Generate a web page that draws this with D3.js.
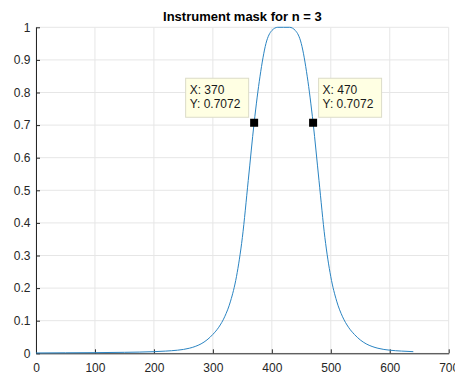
<!DOCTYPE html>
<html>
<head>
<meta charset="utf-8">
<script src="https://cdn.jsdelivr.net/npm/d3@7"></script>
<style>
  html, body { margin: 0; padding: 0; background: #fff; }
  svg { display: block; font-family: "Liberation Sans", Arial, Helvetica, sans-serif; }
  .axis path, .axis line { stroke: #262626; }
  .axis text { fill: #262626; font-size: 12px; }
</style>
</head>
<body>
<svg id="chart" width="455" height="376"></svg>
<script>
// values
const wavelength = [0, 50, 100, 150, 200, 220, 240, 250, 260, 270, 280, 290, 300, 310, 320, 330, 340, 350, 360, 370, 380, 390, 400, 410, 420, 430, 440, 450, 460, 470, 480, 490, 500, 510, 520, 530, 540, 550, 560, 570, 580, 590, 600, 620, 640]
const mask = [0.001, 0.0015, 0.002, 0.003, 0.005, 0.0068, 0.0095, 0.0118, 0.0155, 0.021, 0.029, 0.041, 0.058, 0.080, 0.112, 0.160, 0.235, 0.355, 0.53, 0.7072, 0.85, 0.95, 0.99, 1.0, 1.0, 1.0, 0.99, 0.95, 0.85, 0.7072, 0.53, 0.355, 0.235, 0.160, 0.112, 0.080, 0.058, 0.041, 0.029, 0.021, 0.0155, 0.0118, 0.0095, 0.0068, 0.005]
const tipX = [370, 470]
const tipY = [0.7072, 0.7072]
const tipSide = ['left', 'right']
const xTicks = [0, 100, 200, 300, 400, 500, 600, 700]
const yTicks = [0, 0.1, 0.2, 0.3, 0.4, 0.5, 0.6, 0.7, 0.8, 0.9, 1]
const title = 'Instrument mask for n = 3'

const margin = {top: 27.3, left: 36, right: 6.3, bottom: 22.7}
const width = 455 - margin.left - margin.right
const height = 376 - margin.top - margin.bottom

const svg = d3.select('#chart')

const x = d3.scaleLinear().domain([0, 700]).range([0, width])
const y = d3.scaleLinear().domain([0, 1]).range([height, 0])

const g = svg.append('g')
    .attr('transform', 'translate(' + margin.left + ',' + margin.top + ')')

// grid
g.append('g').selectAll('line.vx')
    .data(xTicks)
    .enter().append('line')
    .attr('x1', d => x(d)).attr('x2', d => x(d))
    .attr('y1', 0).attr('y2', height)
    .attr('stroke', '#e6e6e6')
g.append('g').selectAll('line.hy')
    .data(yTicks)
    .enter().append('line')
    .attr('x1', 0).attr('x2', width)
    .attr('y1', d => y(d)).attr('y2', d => y(d))
    .attr('stroke', '#e6e6e6')

// axes, ticks pointing inward
g.append('g')
    .attr('class', 'axis axis--x')
    .attr('transform', 'translate(0,' + height + ')')
    .call(d3.axisBottom(x).tickValues(xTicks).tickSizeInner(-4).tickSizeOuter(0).tickPadding(10.5).tickFormat(d3.format('d')))
g.append('g')
    .attr('class', 'axis axis--y')
    .call(d3.axisLeft(y).tickValues(yTicks).tickSizeInner(-4).tickSizeOuter(0).tickPadding(5.5).tickFormat(d => d3.format('~g')(d)))
g.selectAll('.axis text').attr('font-family', null).attr('font-size', null)

// curve
const points = wavelength.map((w, i) => [w, mask[i]])
const line = d3.line()
    .x(d => x(d[0]))
    .y(d => y(d[1]))
    .curve(d3.curveMonotoneX)
g.append('path')
    .datum(points)
    .attr('fill', 'none')
    .attr('stroke', '#2a84c2')
    .attr('stroke-width', 1)
    .attr('d', line)

// data tips
const boxW = 63, boxH = 39
tipX.forEach((tx, i) => {
    const px = x(tx), py = y(tipY[i])
    const bx = tipSide[i] === 'left' ? px - 6 - boxW : px + 5
    const by = py - 6 - boxH
    const tip = g.append('g').attr('transform', 'translate(' + bx + ',' + by + ')')
    tip.append('rect')
        .attr('x', 0.5).attr('y', 0.5)
        .attr('width', boxW).attr('height', boxH)
        .attr('fill', '#ffffe3')
        .attr('stroke', '#dcdcc8')
    tip.append('text')
        .attr('x', 4.5).attr('y', 16.5)
        .attr('font-size', 12).attr('fill', '#1a1a1a')
        .text('X: ' + tx)
    tip.append('text')
        .attr('x', 4.5).attr('y', 30)
        .attr('font-size', 12).attr('fill', '#1a1a1a')
        .text('Y: ' + tipY[i])
    g.append('rect')
        .attr('x', px - 4).attr('y', py - 4)
        .attr('width', 8).attr('height', 8)
        .attr('fill', '#000')
})

// title
svg.append('text')
    .attr('x', margin.left + width / 2)
    .attr('y', 20.5)
    .attr('text-anchor', 'middle')
    .attr('font-size', 13)
    .attr('font-weight', 'bold')
    .attr('fill', '#000')
    .text(title)
</script>
</body>
</html>
